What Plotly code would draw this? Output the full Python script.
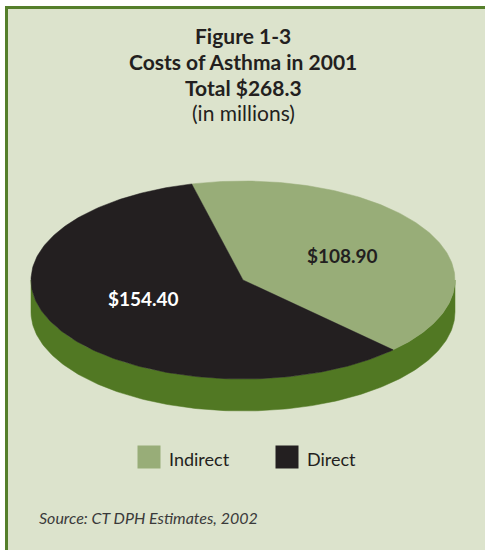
import numpy as np
import plotly.graph_objects as go

# ---- data ----
categories = ["Indirect", "Direct"]
values = [108.90, 154.40]
value_labels = ["$108.90", "$154.40"]
title_lines = ["Figure 1-3", "Costs of Asthma in 2001", "Total $268.3"]
subtitle = "(in millions)"
source_text = "Source: CT DPH Estimates, 2002"

# ---- styles ----
slice_colors = ["#98ad78", "#231f20"]
label_colors = ["#231f20", "#ffffff"]
side_color = "#517823"
bg_color = "#dce3cc"
border_color = "#557f2b"
W, H = 485, 550
cx, cy, rx, ry, depth = 243, 280, 212, 99, 32
start_angle = 104  # degrees, parametric, counter-clockwise from +x

fig = go.Figure()

# side (extrusion) of the pie: lower half of ellipse band
t = np.linspace(np.pi, 2 * np.pi, 200)
top_x = cx + rx * np.cos(t)
top_y = cy - ry * np.sin(t)
bot_x = top_x[::-1]
bot_y = (cy + depth) - ry * np.sin(t[::-1])
fig.add_trace(go.Scatter(x=np.concatenate([top_x, bot_x, top_x[:1]]),
                         y=np.concatenate([top_y, bot_y, top_y[:1]]),
                         mode="lines", fill="toself", fillcolor=side_color,
                         line=dict(width=0.5, color=side_color),
                         hoverinfo="skip", showlegend=False))

# top slices, clockwise from start angle
total = sum(values)
a0 = np.radians(start_angle)
for name, v, col, lab, lcol in zip(categories, values, slice_colors, value_labels, label_colors):
    sweep = 2 * np.pi * v / total
    ang = np.linspace(a0, a0 - sweep, 200)
    xs = np.concatenate([[cx], cx + rx * np.cos(ang), [cx]])
    ys = np.concatenate([[cy], cy - ry * np.sin(ang), [cy]])
    fig.add_trace(go.Scatter(x=xs, y=ys, mode="lines", fill="toself",
                             fillcolor=col, line=dict(width=0.5, color=col),
                             name=name, hoverinfo="name", showlegend=False))
    mid = a0 - sweep / 2
    fig.add_annotation(x=cx + 0.54 * rx * np.cos(mid), y=cy - 0.45 * ry * np.sin(mid) - 3,
                       text=lab, showarrow=False,
                       font=dict(family="Lato", size=19, color=lcol, weight="bold"))
    a0 -= sweep

# legend
leg_x = [149, 287]
for name, col, lx in zip(categories, slice_colors, leg_x):
    fig.add_trace(go.Scatter(x=[lx], y=[457], mode="markers",
                             marker=dict(symbol="square", size=23, color=col),
                             hoverinfo="skip", showlegend=False))
    fig.add_annotation(x=lx + 18, y=459, text=name, showarrow=False, xanchor="left",
                       font=dict(family="Lato", size=18, color="#231f20"))

# title
for i, line in enumerate(title_lines):
    fig.add_annotation(x=243, y=35 + 26 * i, text=line, showarrow=False,
                       font=dict(family="Lato", size=21, color="#231f20", weight="bold"))
fig.add_annotation(x=243, y=112, text=subtitle, showarrow=False,
                   font=dict(family="Lato", size=21, color="#231f20"))

# source
fig.add_annotation(x=37, y=517, text=source_text, showarrow=False, xanchor="left",
                   font=dict(family="Lato", size=16, color="#3a3a3a", style="italic",
                             weight="normal"))

# panel with border: green rect then background rect (paper coords, no strokes)
fig.add_shape(type="rect", xref="paper", yref="paper",
              x0=5 / W, y0=1 - 6 / H, x1=1.1, y1=-0.1,
              fillcolor=border_color, line=dict(width=0), layer="below")
fig.add_shape(type="rect", xref="paper", yref="paper",
              x0=8 / W, y0=1 - 9 / H, x1=1.1, y1=-0.1,
              fillcolor=bg_color, line=dict(width=0), layer="below")

fig.update_layout(width=W, height=H, margin=dict(l=0, r=0, t=0, b=0),
                  paper_bgcolor="white", plot_bgcolor="rgba(0,0,0,0)",
                  xaxis=dict(range=[0, W], visible=False, fixedrange=True),
                  yaxis=dict(range=[H, 0], visible=False, fixedrange=True),
                  showlegend=False)

fig.write_html("out.html")
